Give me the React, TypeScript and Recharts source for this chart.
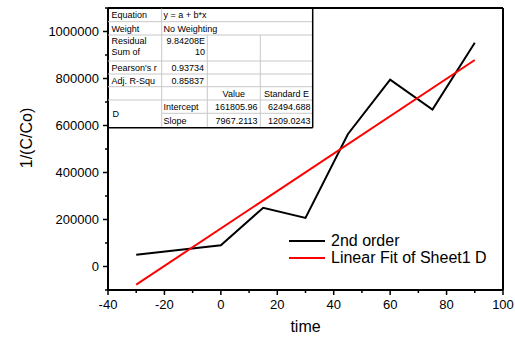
import { LineChart, Line, XAxis, YAxis, ReferenceLine, Legend } from 'recharts';

// measured series (time vs 1/(C/Co))
const times = [-30, 0, 15, 30, 45, 60, 75, 90];
const secondOrder = [50000, 90000, 250000, 207000, 563000, 795000, 668000, 952000];
const fitTimes = [-30, 90];
const fitValues = [-77200, 878900];

const xTicks = [-40, -30, -20, -10, 0, 10, 20, 30, 40, 50, 60, 70, 80, 90, 100];
const yTicks = [-100000, 0, 100000, 200000, 300000, 400000, 500000, 600000, 700000, 800000, 900000, 1000000, 1100000];

// fit report table text
const fitEquation = 'y = a + b*x';
const fitWeight = 'No Weighting';
const residualSS = ['9.84208E', '10'];
const pearsonR = '0.93734';
const adjR2 = '0.85837';
const paramHeaders = ['Value', 'Standard E'];
const paramNames = ['Intercept', 'Slope'];
const paramValues = ['161805.96', '7967.2113'];
const paramErrors = ['62494.688', '1209.0243'];

const dataBlack = times.map((t, i) => ({ x: t, y: secondOrder[i] }));
const dataRed = fitTimes.map((t, i) => ({ x: t, y: fitValues[i] }));

const XTick = ({ x, y, payload }: any) => {
  const major = payload.value % 20 === 0;
  return (
    <g>
      <line x1={x} x2={x} y1={y} y2={y + (major ? 5 : 3)} stroke="#000" strokeWidth={1.5} />
      {major && (
        <text x={x} y={y + 19} textAnchor="middle" fontSize={13} fill="#000">
          {payload.value}
        </text>
      )}
    </g>
  );
};

const YTick = ({ x, y, payload }: any) => {
  const major = payload.value % 200000 === 0 && payload.value >= 0 && payload.value <= 1000000;
  return (
    <g>
      <line x1={x - (major ? 5 : 3)} x2={x} y1={y} y2={y} stroke="#000" strokeWidth={1.5} />
      {major && (
        <text x={x - 9} y={y + 4.5} textAnchor="end" fontSize={13} fill="#000">
          {payload.value}
        </text>
      )}
    </g>
  );
};

const YLabel = () => (
  <text x={31.5} y={138} transform="rotate(-90, 31.5, 138)" textAnchor="middle" fontSize={16} fill="#000">
    1/(C/Co)
  </text>
);

const LegendContent = ({ payload }: any) => (
  <div>
    {(payload || []).map((p: any) => (
      <div key={p.value} style={{ display: 'flex', alignItems: 'center', height: 17.5 }}>
        <svg width={42} height={4}>
          <line x1={0} x2={36} y1={2} y2={2} stroke={p.color} strokeWidth={2} />
        </svg>
        <span style={{ fontSize: 16, color: '#000', whiteSpace: 'nowrap' }}>{p.value}</span>
      </div>
    ))}
  </div>
);

const cx = [108, 161.7, 207.3, 260.3, 312.7];
const ry = [8.5, 21.7, 35, 61, 74, 86.7, 100, 113.3, 127.7];
const mid = (i: number) => (ry[i] + ry[i + 1]) / 2 + 3.2;

function FitTable() {
  const grid = '#c8c8c8';
  const left = (x: number, y: number, s: string) => (
    <text x={x} y={y} fontSize={9} fill="#000">{s}</text>
  );
  const right = (x: number, y: number, s: string) => (
    <text x={x} y={y} fontSize={9} fill="#000" textAnchor="end">{s}</text>
  );
  return (
    <svg width={515} height={337} style={{ position: 'absolute', left: 0, top: 0, pointerEvents: 'none' }}>
      <defs>
        <clipPath id="resClip">
          <rect x={cx[0]} y={ry[2]} width={cx[1] - cx[0]} height={ry[3] - ry[2] - 0.5} />
        </clipPath>
      </defs>
      <rect x={109} y={9.5} width={cx[4] - 109} height={ry[8] - 9.5} fill="#fff" />
      {[1, 2, 3, 4, 5, 6].map((i) => (
        <line key={i} x1={cx[0]} x2={cx[4]} y1={ry[i]} y2={ry[i]} stroke={grid} strokeWidth={1} />
      ))}
      <line x1={cx[1]} x2={cx[4]} y1={ry[7]} y2={ry[7]} stroke={grid} strokeWidth={1} />
      <line x1={cx[1]} x2={cx[1]} y1={ry[0]} y2={ry[8]} stroke={grid} strokeWidth={1} />
      <line x1={cx[2]} x2={cx[2]} y1={ry[2]} y2={ry[8]} stroke={grid} strokeWidth={1} />
      <line x1={cx[3]} x2={cx[3]} y1={ry[2]} y2={ry[8]} stroke={grid} strokeWidth={1} />
      <line x1={cx[4]} x2={cx[4]} y1={ry[0]} y2={ry[8]} stroke="#000" strokeWidth={1.5} />
      <line x1={cx[0]} x2={cx[4]} y1={ry[8]} y2={ry[8]} stroke="#000" strokeWidth={1.5} />

      {left(111.5, mid(0), 'Equation')}
      {left(163.5, mid(0), fitEquation)}
      {left(111.5, mid(1), 'Weight')}
      {left(163.5, mid(1), fitWeight)}
      <g clipPath="url(#resClip)">
        {left(111.5, 43.5, 'Residual')}
        {left(111.5, 55, 'Sum of')}
        {left(111.5, 66.5, 'Squares')}
      </g>
      {right(205, 43.5, residualSS[0])}
      {right(205, 55, residualSS[1])}
      {left(111.5, mid(3), "Pearson's r")}
      {right(204, mid(3), pearsonR)}
      {left(111.5, mid(4), 'Adj. R-Squ')}
      {right(204, mid(4), adjR2)}
      <text x={(cx[2] + cx[3]) / 2} y={mid(5)} fontSize={9} textAnchor="middle">{paramHeaders[0]}</text>
      <text x={(cx[3] + cx[4]) / 2} y={mid(5)} fontSize={9} textAnchor="middle">{paramHeaders[1]}</text>
      {left(112.5, (ry[6] + ry[8]) / 2 + 3.2, 'D')}
      {paramNames.map((n, i) => (
        <g key={n}>
          {left(163.5, mid(6 + i), n)}
          {right(257.5, mid(6 + i), paramValues[i])}
          {right(310.5, mid(6 + i), paramErrors[i])}
        </g>
      ))}
    </svg>
  );
}

export default function App() {
  return (
    <div
      style={{
        position: 'absolute',
        left: 0,
        top: 0,
        width: 515,
        height: 337,
        background: '#fff',
        fontFamily: 'Arial, "Liberation Sans", sans-serif',
      }}
    >
      <LineChart width={515} height={337} margin={{ top: 8, right: 12, left: 0, bottom: 0 }}>
        <XAxis
          type="number"
          dataKey="x"
          domain={[-40, 100]}
          ticks={xTicks}
          interval={0}
          height={47}
          tickSize={0}
          tickMargin={0}
          tickLine={false}
          tick={<XTick />}
          axisLine={{ stroke: '#000', strokeWidth: 2 }}
          label={{ value: 'time', position: 'insideBottom', offset: 5, fontSize: 16, fill: '#000' }}
        />
        <YAxis
          type="number"
          dataKey="y"
          domain={[-100000, 1100000]}
          ticks={yTicks}
          interval={0}
          width={108}
          tickSize={0}
          tickMargin={0}
          tickLine={false}
          tick={<YTick />}
          axisLine={{ stroke: '#000', strokeWidth: 2 }}
          label={<YLabel />}
        />
        <ReferenceLine y={1100000} stroke="#000" strokeWidth={2} />
        <ReferenceLine x={100} stroke="#000" strokeWidth={2} />
        <Line
          data={dataBlack}
          dataKey="y"
          name="2nd order"
          stroke="#000"
          strokeWidth={2}
          dot={false}
          isAnimationActive={false}
        />
        <Line
          data={dataRed}
          dataKey="y"
          name="Linear Fit of Sheet1 D"
          stroke="#ff0000"
          strokeWidth={2}
          dot={false}
          isAnimationActive={false}
        />
        <Legend
          layout="vertical"
          align="center"
          verticalAlign="middle"
          content={<LegendContent />}
          wrapperStyle={{ left: 289, top: 232, width: 220, height: 40 }}
        />
      </LineChart>
      <FitTable />
    </div>
  );
}
